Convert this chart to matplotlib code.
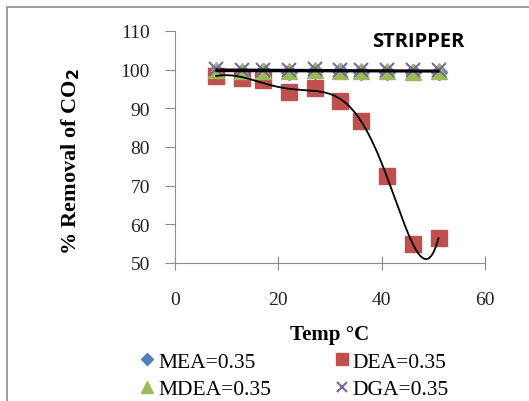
import numpy as np
import matplotlib.pyplot as plt
from matplotlib.patches import Rectangle

# Data
temp = [8, 13, 17, 22, 27, 32, 36, 41, 46, 51]
mea = [99.6, 99.5, 99.6, 99.5, 99.6, 99.6, 99.5, 99.5, 99.5, 99.5]
dea = [98.4, 97.8, 97.2, 94.2, 95.3, 92.0, 86.8, 72.4, 55.0, 56.4]
mdea = [99.8, 99.7, 99.7, 99.6, 99.8, 99.7, 99.6, 99.6, 99.5, 99.6]
dga = [100.1, 100.0, 100.0, 99.9, 100.1, 100.0, 99.9, 99.8, 99.8, 99.8]

W, H = 529, 402
fig = plt.figure(figsize=(W / 100, H / 100), dpi=100)
serif = "Liberation Serif"

# outer chart frame (cropped at right and bottom)
fig.patches.append(Rectangle((7 / W, -0.2), 1.2, 1.2 - 8 / H,
                             transform=fig.transFigure, fill=False,
                             edgecolor="#8c8c8c", linewidth=1.2))

ax = fig.add_axes([175 / W, 1 - 264 / H, 310 / W, 232 / H])

h_mea, = ax.plot(temp, mea, linestyle="none", marker="D", color="#4F81BD", markersize=8, label="MEA=0.35")
h_dea, = ax.plot(temp, dea, linestyle="none", marker="s", color="#C0504D", markersize=12, label="DEA=0.35")
h_mdea, = ax.plot(temp, mdea, linestyle="none", marker="^", color="#9BBB59", markersize=11, label="MDEA=0.35")
h_dga, = ax.plot(temp, dga, linestyle="none", marker="x", color="#8064A2", markersize=10, mew=1.5, label="DGA=0.35")

# trendlines
xs = np.linspace(min(temp), max(temp), 300)
for series in (mea, mdea, dga):
    c = np.polyfit(temp, series, 1)
    ax.plot(xs, np.polyval(c, xs), color="black", linewidth=1.3)
c = np.polyfit(temp, dea, 6)
ax.plot(xs, np.polyval(c, xs), color="black", linewidth=1.3)

ax.set_xlim(0, 60)
ax.set_ylim(50, 110)
ax.set_xticks([0, 20, 40, 60])
ax.set_yticks(range(50, 111, 10))
for s in ("top", "right"):
    ax.spines[s].set_visible(False)
for s in ("left", "bottom"):
    ax.spines[s].set_color("#8c8c8c")
ax.tick_params(colors="#8c8c8c", labelcolor="#222222")
ax.tick_params(axis="y", direction="out", length=7, pad=11)
ax.tick_params(axis="x", direction="inout", length=10, pad=15)
for lab in ax.get_xticklabels() + ax.get_yticklabels():
    lab.set_fontfamily(serif)
    lab.set_fontsize(14)

ax.set_xlabel("Temp °C", fontfamily=serif, fontsize=15, fontweight="bold", labelpad=12)
ax.set_ylabel("% Removal of CO$_\\mathbf{2}$", fontfamily=serif, fontsize=16,
              fontweight="bold")
ax.yaxis.set_label_coords(-0.30, 0.44)
ax.text(0.785, 0.955, "STRIPPER", transform=ax.transAxes, ha="center", va="center",
        fontfamily="Open Sans", fontweight="bold", fontsize=14.5)

# column-major fill: MEA/MDEA in the first column, DEA/DGA in the second
fig.legend([h_mea, h_mdea, h_dea, h_dga],
           [h.get_label() for h in (h_mea, h_mdea, h_dea, h_dga)],
           loc="upper left", bbox_to_anchor=(130 / W, 1 - 342 / H), ncol=2,
           frameon=False, prop={"family": serif, "size": 15.5},
           handlelength=0.6, handletextpad=0.2, columnspacing=3.0,
           labelspacing=0.35, borderpad=0, markerscale=0.75)

fig.savefig("out.png", dpi=100)
